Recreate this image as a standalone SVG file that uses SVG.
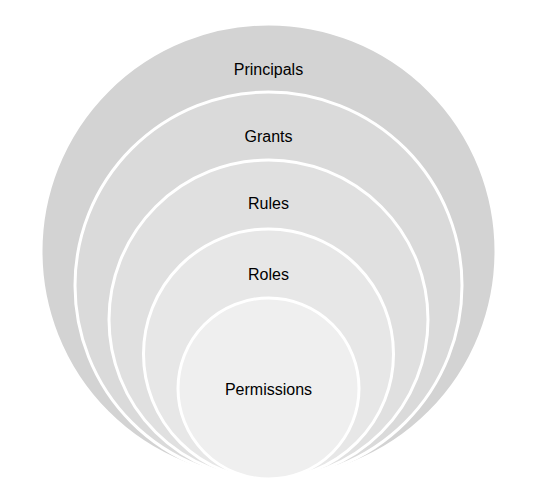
<svg xmlns="http://www.w3.org/2000/svg" width="533" height="490" viewBox="0 0 533 490">
<style>
.ring{stroke:#ffffff;stroke-width:3}
.lbl{font-family:"Liberation Sans",Arial,sans-serif;font-size:16px;fill:#000000;text-anchor:middle}
</style>
<rect width="533" height="490" fill="#ffffff"/>
<g id="principals">
<circle class="ring" cx="268.5" cy="251.5" r="227.5" fill="#d3d3d3" stroke="none"/>
<text class="lbl" x="268.5" y="75">Principals</text>
</g>
<g id="grants">
<circle class="ring" cx="268.5" cy="285.5" r="193.5" fill="#dadada"/>
<text class="lbl" x="268.5" y="142">Grants</text>
</g>
<g id="rules">
<circle class="ring" cx="268.5" cy="319.5" r="159.5" fill="#e0e0e0"/>
<text class="lbl" x="268.5" y="209">Rules</text>
</g>
<g id="roles">
<circle class="ring" cx="268.5" cy="354" r="125" fill="#e7e7e7"/>
<text class="lbl" x="268.5" y="280">Roles</text>
</g>
<g id="permissions">
<circle class="ring" cx="268.5" cy="388.5" r="90.5" fill="#efefef"/>
<text class="lbl" x="268.5" y="395">Permissions</text>
</g>
<g id="connectors"></g>
</svg>
